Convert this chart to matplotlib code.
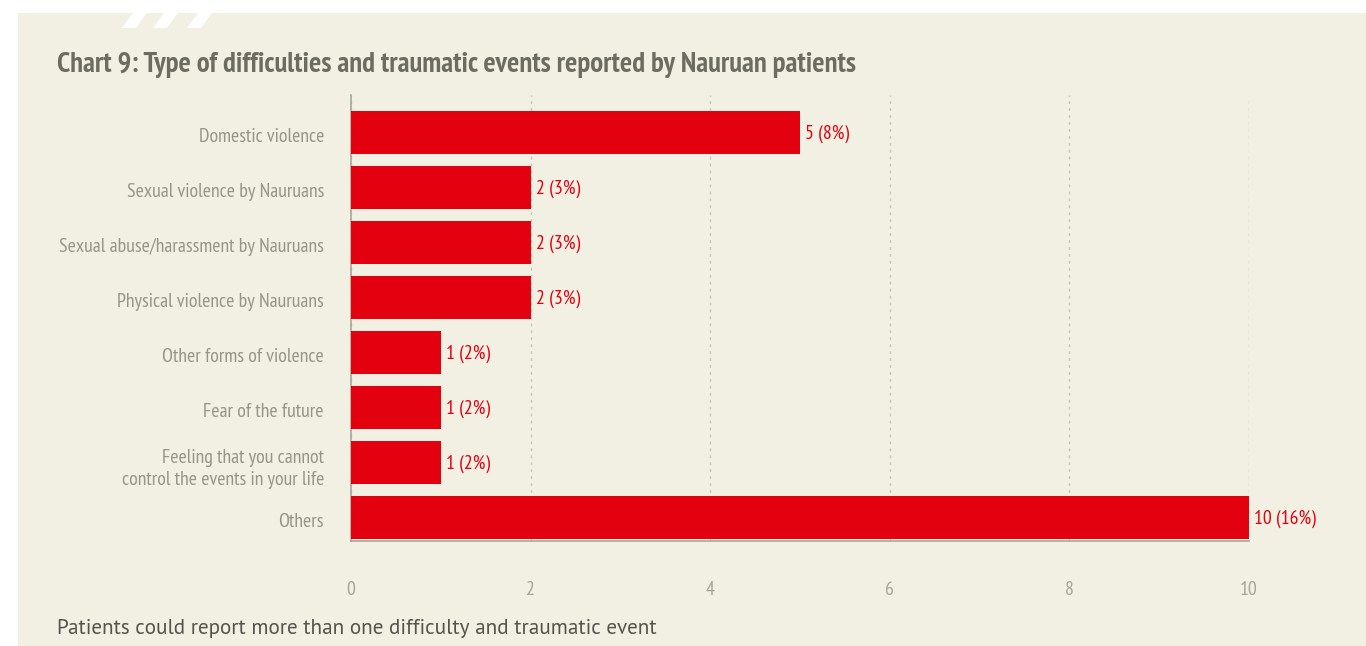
import numpy as np
import matplotlib
matplotlib.use("Agg")
import matplotlib.pyplot as plt
from matplotlib.patches import Rectangle, Polygon

# data
categories = ["Domestic violence",
              "Sexual violence by Nauruans",
              "Sexual abuse/harassment by Nauruans",
              "Physical violence by Nauruans",
              "Other forms of violence",
              "Fear of the future",
              "Feeling that you cannot\ncontrol the events in your life",
              "Others"]
counts = [5, 2, 2, 2, 1, 1, 1, 10]
percents = [8, 3, 3, 3, 2, 2, 2, 16]
xticks = [0, 2, 4, 6, 8, 10]

W, H = 1366, 646
BG = "#f2efe3"
RED = "#e3000f"
GREY = "#979585"
narrow = ["PT Sans Narrow", "Liberation Sans Narrow", "DejaVu Sans"]
plain = ["PT Sans", "Open Sans", "DejaVu Sans"]

fig = plt.figure(figsize=(W/100, H/100), dpi=100)
fig.patch.set_facecolor("white")
fig.patches.append(Rectangle((18/W, 0), 1 - 18/W, 1 - 13/H, transform=fig.transFigure,
                             facecolor=BG, edgecolor="none", zorder=-5))
# little white stripes at the top of the panel
for x0 in [122, 153, 187]:
    pts = [(x0, 28), (x0 + 14, 28), (x0 + 25, 13), (x0 + 11, 13)]
    fig.patches.append(Polygon([(px/W, 1 - py/H) for px, py in pts], closed=True,
                               transform=fig.transFigure, facecolor="white",
                               edgecolor="none", zorder=-4))

ax = fig.add_axes([351/W, 1 - 541/H, (1249 - 351)/W, (541 - 95)/H])
ax.set_facecolor("none")
y = np.arange(len(categories))
ax.barh(y, counts, height=0.78, color=RED, zorder=3)
for yi, c, p in zip(y, counts, percents):
    ax.text(c + 0.06, yi + 0.02, f"{c} ({p}%)", va="center", ha="left", color=RED,
            fontsize=14.2, family=narrow)

ax.set_ylim(7.42, -0.69)
ax.set_xlim(0, 10)
ax.set_xticks(xticks)
ax.set_yticks(y + 0.03)
ax.set_yticklabels(categories, family=narrow, fontsize=14.3, color=GREY,
                   linespacing=1.3)
for lab in ax.get_xticklabels():
    lab.set_family(narrow)
    lab.set_fontsize(14.2)
    lab.set_color("#a7a595")
ax.tick_params(axis="y", length=0, pad=19.5)
ax.tick_params(axis="x", length=0, pad=28.5)
ax.grid(axis="x", color="#c9c6b8", linestyle=(0, (2, 3)), linewidth=1, zorder=0)
for s in ["top", "right"]:
    ax.spines[s].set_visible(False)
for s in ["left", "bottom"]:
    ax.spines[s].set_color("#a9a79a")
    ax.spines[s].set_linewidth(1.2)

fig.text(57/W, 1 - 72/H, "Chart 9: Type of difficulties and traumatic events reported by Nauruan patients",
         family=narrow, fontweight="bold", fontsize=20.7, color="#6d6c60",
         ha="left", va="baseline")
fig.text(57/W, 1 - 634/H, "Patients could report more than one difficulty and traumatic event",
         family=plain, fontsize=15.2, color="#55544c",
         ha="left", va="baseline")

fig.savefig("out.png", dpi=100, facecolor=fig.get_facecolor())
